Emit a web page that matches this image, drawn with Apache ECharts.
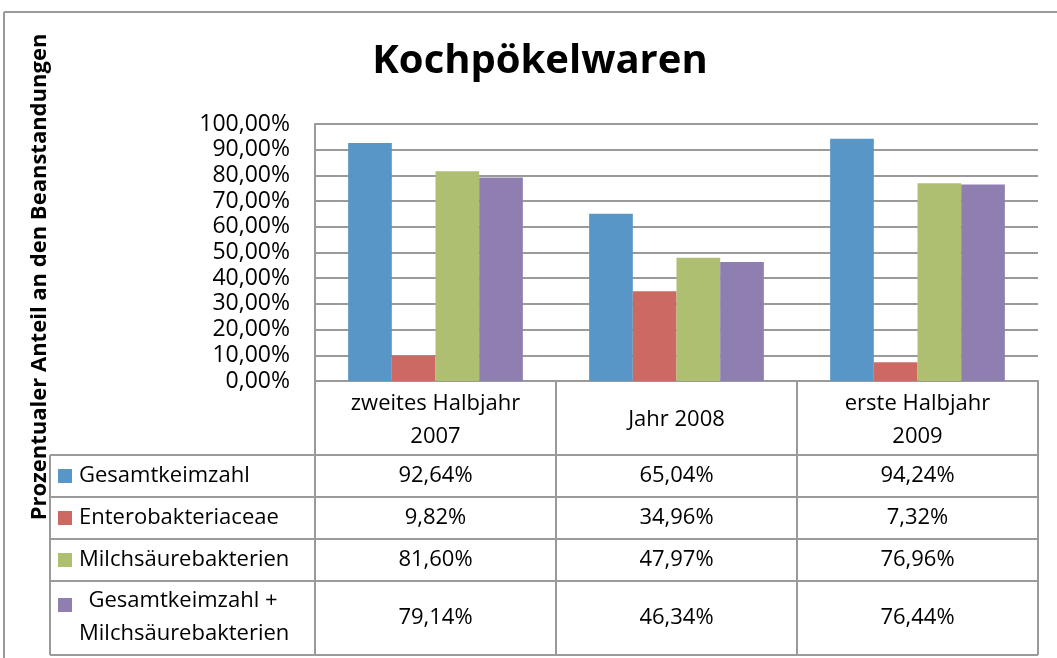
<!DOCTYPE html>
<html><head><meta charset="utf-8">
<script src="https://cdn.jsdelivr.net/npm/echarts@6/dist/echarts.min.js"></script>
<style>html,body{margin:0;padding:0;background:#fff}#c{width:1057px;height:658px}</style>
</head><body><div id="c"></div>
<script>
const title = 'Kochpökelwaren';
const yAxisTitle = 'Prozentualer Anteil an den Beanstandungen';
const categories = ['zweites Halbjahr\n2007', 'Jahr 2008', 'erste Halbjahr\n2009'];
const seriesNames = ['Gesamtkeimzahl', 'Enterobakteriaceae', 'Milchsäurebakterien', 'Gesamtkeimzahl +\nMilchsäurebakterien'];
const gesamtkeimzahl = [92.64, 65.04, 94.24];
const enterobakteriaceae = [9.82, 34.96, 7.32];
const milchsaeurebakterien = [81.60, 47.97, 76.96];
const gesamtPlusMilch = [79.14, 46.34, 76.44];
const yTicks = [0, 10, 20, 30, 40, 50, 60, 70, 80, 90, 100];
const colors = ['#5896C7', '#CC6962', '#AFBF72', '#8F7FB1'];
const seriesData = [gesamtkeimzahl, enterobakteriaceae, milchsaeurebakterien, gesamtPlusMilch];

const FONT = 'Open Sans';
const fmt = v => v.toFixed(2).replace('.', ',') + '%';

const chart = echarts.init(document.getElementById('c'), null, {renderer: 'canvas'});
const option = {
  animation: false,
  grid: {left: 315, right: 19, top: 124, bottom: 277},
  xAxis: {
    type: 'category', data: categories,
    axisLine: {lineStyle: {color: '#9a9a9a', width: 2}},
    axisTick: {show: false}, axisLabel: {show: false}
  },
  yAxis: {
    type: 'value', min: yTicks[0], max: yTicks[yTicks.length - 1], interval: 10,
    axisLine: {show: true, lineStyle: {color: '#9a9a9a', width: 2}},
    axisTick: {show: false},
    splitLine: {lineStyle: {color: '#9a9a9a', width: 2}},
    axisLabel: {formatter: v => v.toFixed(2).replace('.', ',') + '%', color: '#000', fontFamily: FONT, fontSize: 23, margin: 25}
  },
  series: seriesNames.map((n, i) => ({
    name: n, type: 'bar', data: seriesData[i], barGap: '0%', barCategoryGap: '27.5%',
    itemStyle: {color: colors[i]}
  }))
};
chart.setOption(option);

const xL = 50;
const colCenters = categories.map((c, i) => chart.convertToPixel({xAxisIndex: 0}, i));
const colW = colCenters[1] - colCenters[0];
const plotL = colCenters[0] - colW / 2, plotR = colCenters[2] + colW / 2;
const y0 = chart.convertToPixel({yAxisIndex: 0}, 0);
const rowYs = [y0, 455, 497, 539, 581, 655];
const G = [];
const lineStyle = {stroke: '#9a9a9a', lineWidth: 2};
for (let r = 1; r < rowYs.length; r++) {
  G.push({type: 'line', shape: {x1: xL, y1: rowYs[r], x2: plotR, y2: rowYs[r]}, style: lineStyle});
}
G.push({type: 'line', shape: {x1: xL, y1: rowYs[1], x2: xL, y2: rowYs[5]}, style: lineStyle});
for (let i = 0; i <= categories.length; i++) {
  const x = plotL + i * colW;
  G.push({type: 'line', shape: {x1: x, y1: y0, x2: x, y2: rowYs[5]}, style: lineStyle});
}
const txt = (x, y, t, align) => ({type: 'text', x: x, y: y, style: {text: t, fill: '#000', font: '22px "' + FONT + '"', align: align || 'center', verticalAlign: 'middle', lineHeight: 33}});
categories.forEach((c, i) => G.push(txt(colCenters[i], (rowYs[0] + rowYs[1]) / 2 + 2, c)));
seriesNames.forEach((n, s) => {
  const yc = (rowYs[s + 1] + rowYs[s + 2]) / 2;
  const multi = n.indexOf('\n') >= 0;
  G.push({type: 'rect', shape: {x: 58, y: multi ? rowYs[s + 1] + 17 : yc - 7, width: 14, height: 14}, style: {fill: colors[s]}});
  if (multi) {
    const parts = n.split('\n');
    G.push(txt(183, yc - 17, parts[0]));
    G.push(txt(79, yc + 16, parts[1], 'left'));
  } else {
    G.push(txt(79, yc, n, 'left'));
  }
  seriesData[s].forEach((v, i) => G.push(txt(colCenters[i], yc, fmt(v))));
});
G.push({type: 'line', shape: {x1: 4, y1: 12, x2: 1057, y2: 12}, style: {stroke: '#9a9a9a', lineWidth: 2}});
G.push({type: 'line', shape: {x1: 4, y1: 12, x2: 4, y2: 658}, style: {stroke: '#9a9a9a', lineWidth: 2}});
G.push({type: 'text', x: 540, y: 62, style: {text: title, fill: '#000', font: 'bold 40px "' + FONT + '"', align: 'center', verticalAlign: 'middle'}});
G.push({type: 'text', x: 40, y: 277, rotation: Math.PI / 2, style: {text: yAxisTitle, fill: '#000', font: 'bold 22px "' + FONT + '"', align: 'center', verticalAlign: 'middle'}});
chart.setOption({graphic: G});
</script></body></html>
